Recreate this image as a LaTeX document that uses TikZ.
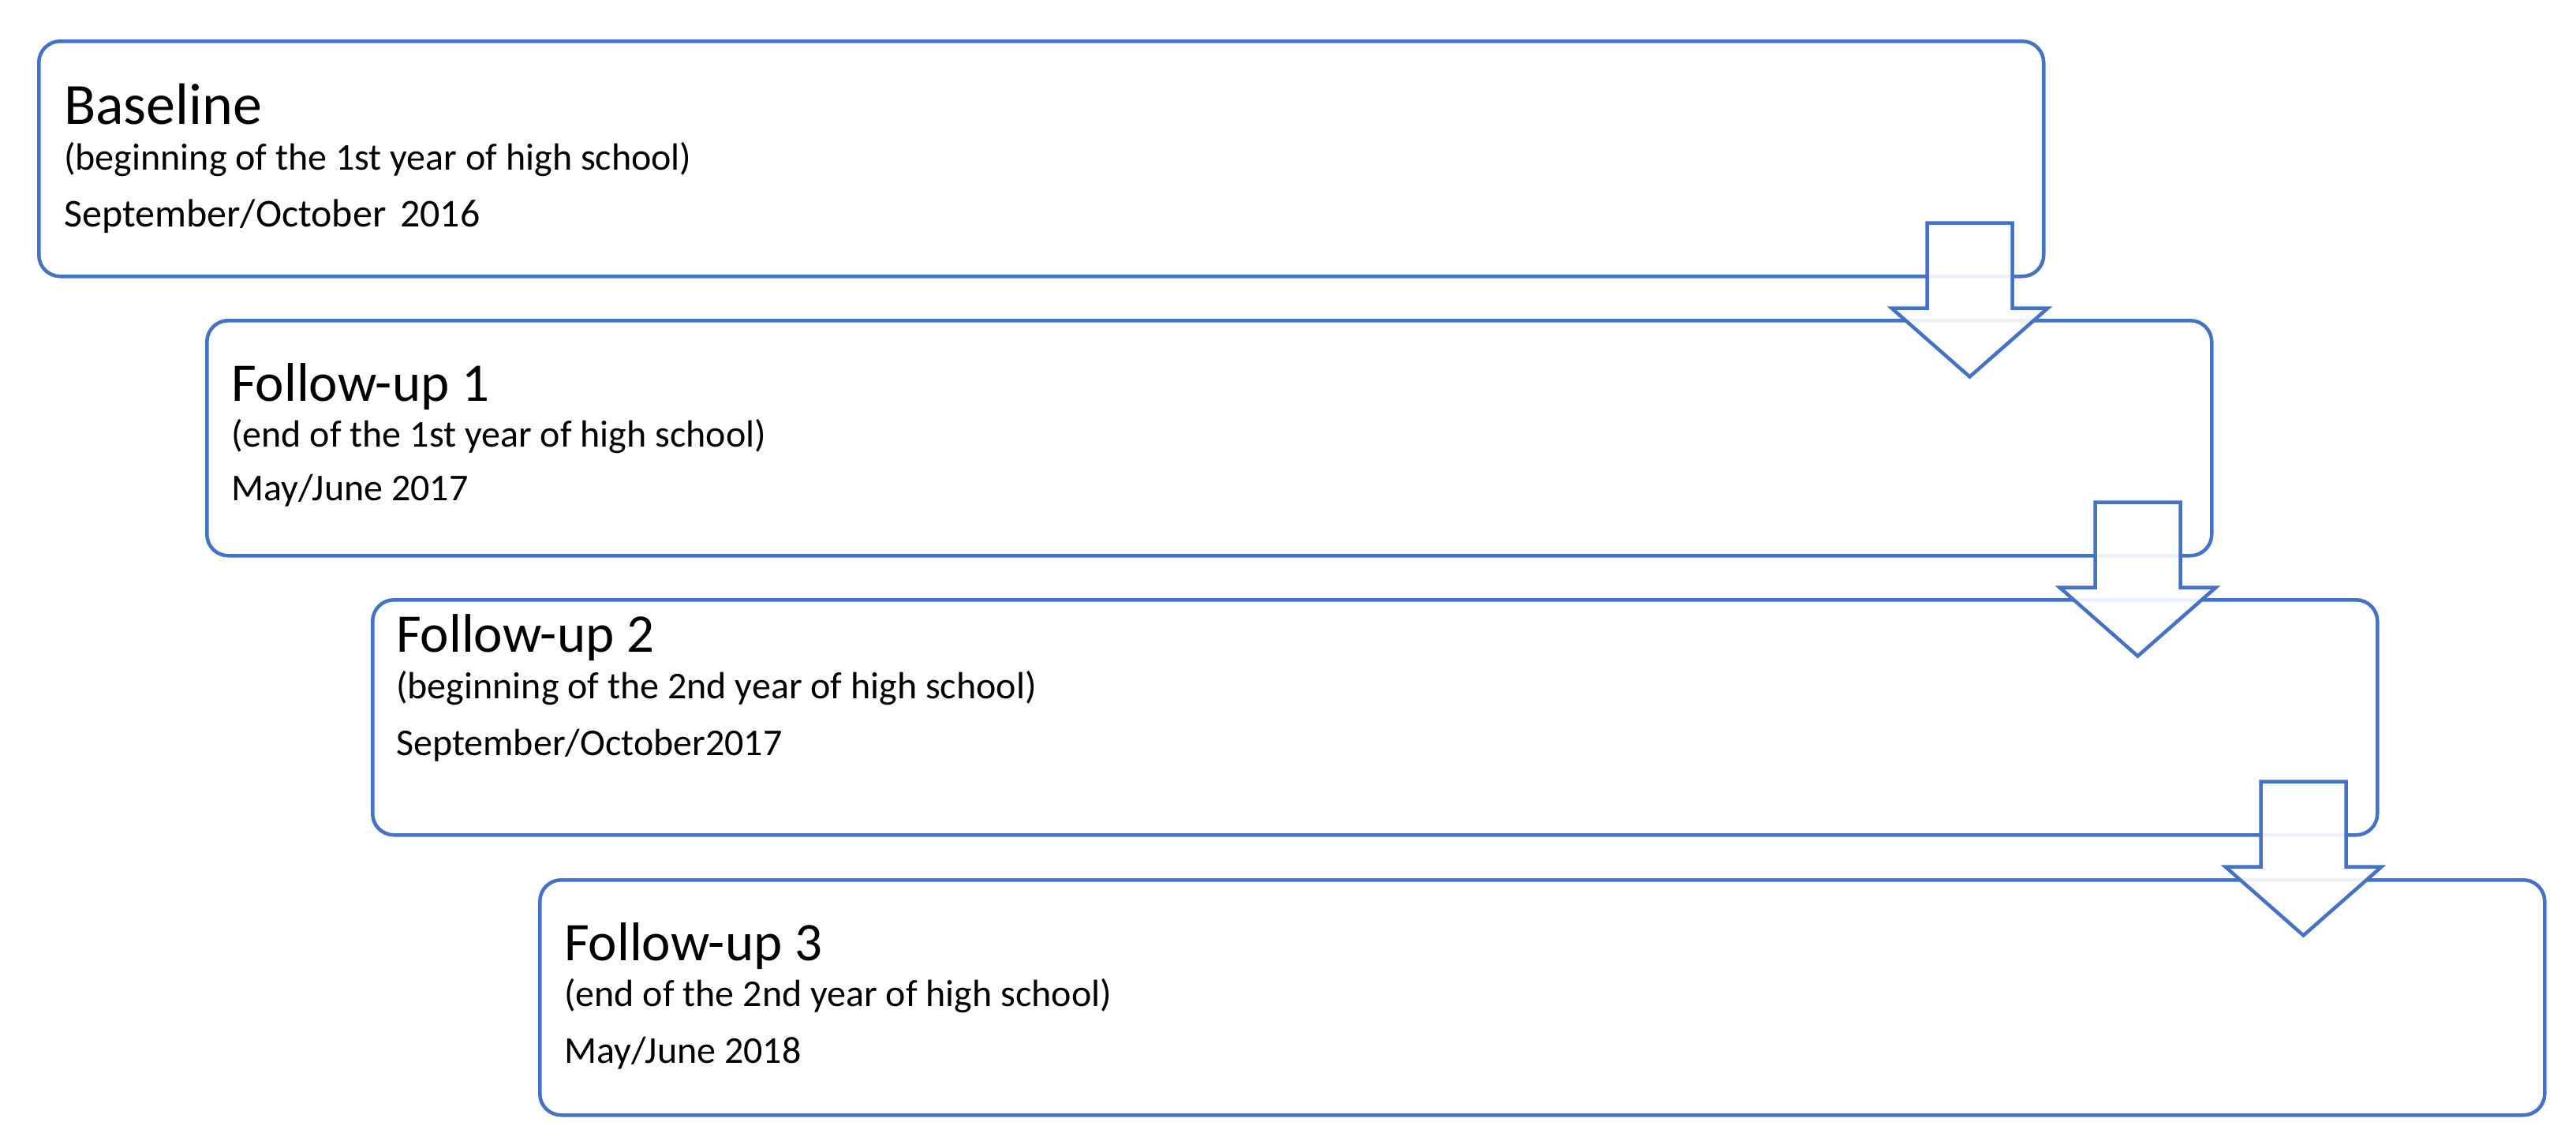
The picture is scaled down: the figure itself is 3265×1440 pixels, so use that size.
\documentclass[tikz,border=0pt]{standalone}
\usepackage{fontspec}
\setmainfont{Carlito}
\usetikzlibrary{calc}
\definecolor{offblue}{HTML}{4472C4}
\tikzset{
  stagebox/.style={draw=offblue, line width=4.5pt, fill=white, rounded corners=27pt,
    rectangle, anchor=north west, minimum width=2541pt, minimum height=298pt, inner sep=0pt},
  ttl/.style={anchor=base west, inner sep=0pt, font=\fontsize{69}{80}\selectfont},
  bigttl/.style={anchor=base west, inner sep=0pt, font=\fontsize{74}{86}\selectfont},
  sub/.style={anchor=base west, inner sep=0pt, font=\fontsize{48}{58}\selectfont},
  dat/.style={anchor=base west, inner sep=0pt, font=\fontsize{48}{58}\selectfont},
  downarr/.pic={
    \draw[draw=offblue, line width=4.5pt, fill=white, fill opacity=0.9, line join=miter]
      (-54,-70) -- (54,-70) -- (54,38) -- (99,38) -- (0,125) -- (-99,38) -- (-54,38) -- cycle;
  }
}
\begin{document}
\begin{tikzpicture}[x=1pt, y=-1pt]
\useasboundingbox (0,0) rectangle (3265,1440);
% boxes
\node[stagebox] (b1) at (47,50) {};
\node[stagebox] (b2) at (260,404) {};
\node[stagebox] (b3) at (470,758) {};
\node[stagebox] (b4) at (682,1113) {};
% arrows
\pic at ($(b1.south east)+(-96,0)$) {downarr};
\pic at ($(b2.south east)+(-96,0)$) {downarr};
\pic at ($(b3.south east)+(-96,0)$) {downarr};
% texts
\node[bigttl] (t1) at ($(b1.north west)+(34,107)$) {Baseline};
\node[sub] (s1) at ($(b1.north west)+(34,165)$) {(beginning of the 1st year of high school)};
\node[dat, font=\fontsize{50}{60}\selectfont] (d1) at ($(b1.north west)+(34,237)$) {September/October\hspace{0.35em}2016};
\node[ttl] (t2) at ($(b2.north west)+(33,104)$) {Follow-up 1};
\node[sub] (s2) at ($(b2.north west)+(33,162)$) {(end of the 1st year of high school)};
\node[dat] (d2) at ($(b2.north west)+(33,230)$) {May/June 2017};
\node[ttl] (t3) at ($(b3.north west)+(32,68)$) {Follow-up 2};
\node[sub] (s3) at ($(b3.north west)+(32,127)$) {(beginning of the 2nd year of high school)};
\node[dat] (d3) at ($(b3.north west)+(32,199)$) {September/October2017};
\node[ttl] (t4) at ($(b4.north west)+(33,104)$) {Follow-up 3};
\node[sub] (s4) at ($(b4.north west)+(33,162)$) {(end of the 2nd year of high school)};
\node[dat] (d4) at ($(b4.north west)+(33,234)$) {May/June 2018};
\end{tikzpicture}
\end{document}
